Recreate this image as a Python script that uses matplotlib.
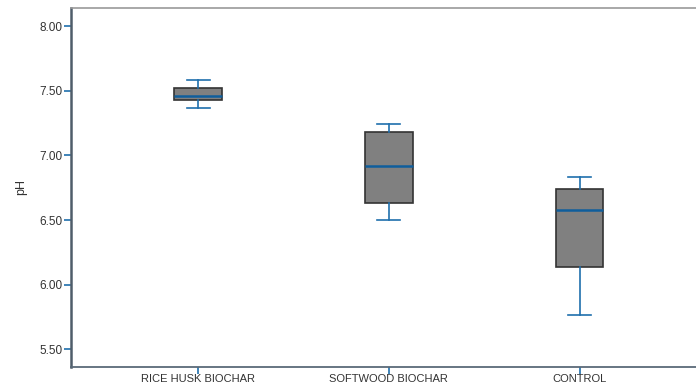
import numpy as np
import matplotlib
matplotlib.use("Agg")
import matplotlib.pyplot as plt

# ── data ─────────────────────────────────────────────────────────────────────
groups    = ["RICE HUSK BIOCHAR", "SOFTWOOD BIOCHAR", "CONTROL"]
whislo    = [7.37, 6.50, 5.77]
q1        = [7.43, 6.63, 6.14]
med       = [7.46, 6.92, 6.58]
q3        = [7.52, 7.18, 6.74]
whishi    = [7.58, 7.24, 6.83]
yticks    = [5.50, 6.00, 6.50, 7.00, 7.50, 8.00]

BLUE  = "#1f6fad"
TEXT  = "#333333"

plt.rcParams["font.family"] = ["Liberation Sans", "DejaVu Sans"]

stats = [dict(label=g, whislo=lo, q1=a, med=m, q3=b, whishi=hi, fliers=[])
         for g, lo, a, m, b, hi in zip(groups, whislo, q1, med, q3, whishi)]

fig = plt.figure(figsize=(6.96, 3.85), dpi=100)
ax = fig.add_axes([0.102, 0.047, 0.898, 0.932])

ax.bxp(stats, positions=range(len(groups)), widths=0.25, capwidths=0.12,
       patch_artist=True, showfliers=False,
       boxprops=dict(facecolor="#808080", edgecolor="#333333", linewidth=1.2),
       medianprops=dict(color="#0f5e9c", linewidth=1.8),
       whiskerprops=dict(color=BLUE, linewidth=1.2),
       capprops=dict(color=BLUE, linewidth=1.2))

ax.set_xlim(-0.666, 2.61)
ax.set_ylim(5.365, 8.139)
ax.set_yticks(yticks)
ax.set_yticklabels([f"{v:.2f}" for v in yticks])
ax.set_xticks(range(len(groups)))
ax.set_xticklabels(groups)

ax.tick_params(axis="y", colors=BLUE, labelcolor=TEXT, labelsize=8.5,
               length=5, width=1.2, pad=1)
ax.tick_params(axis="x", colors=BLUE, labelcolor=TEXT, labelsize=8,
               length=5, width=1.2, pad=0)

ax.spines["left"].set_color("#4f5d6a")
ax.spines["left"].set_linewidth(1.8)
ax.spines["bottom"].set_color("#5a6a78")
ax.spines["bottom"].set_linewidth(1.3)
ax.spines["top"].set_color("#999999")
ax.spines["top"].set_linewidth(1.2)
ax.spines["right"].set_visible(False)

ax.set_ylabel("pH", fontsize=9, color=TEXT, labelpad=9)

fig.savefig("out.png", dpi=100)
